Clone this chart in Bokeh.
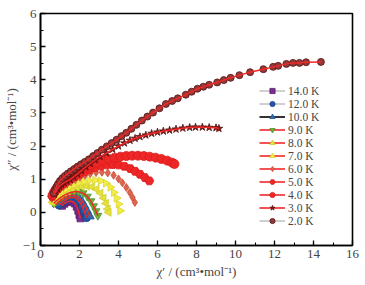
import math
from bokeh.plotting import figure
from bokeh.models import Legend, LegendItem, FixedTicker, ColumnDataSource
from bokeh.embed import file_html
from bokeh.resources import INLINE

# ---- data ----
labels = ["14.0 K", "12.0 K", "10.0 K", "9.0 K", "8.0 K", "7.0 K", "6.0 K", "5.0 K", "4.0 K", "3.0 K", "2.0 K"]

x_14 = [1.10, 1.22, 1.35, 1.50, 1.64, 1.76, 1.86, 1.94, 2.00, 2.05]
y_14 = [0.20, 0.26, 0.31, 0.34, 0.33, 0.27, 0.17, 0.05, -0.08, -0.18]

x_12 = [0.95, 1.08, 1.22, 1.38, 1.55, 1.72, 1.88, 2.02, 2.14, 2.24, 2.32, 2.36]
y_12 = [0.22, 0.28, 0.35, 0.41, 0.45, 0.45, 0.40, 0.30, 0.17, 0.03, -0.09, -0.16]

x_10 = [0.80, 0.92, 1.06, 1.22, 1.40, 1.60, 1.80, 1.98, 2.14, 2.28, 2.40, 2.50, 2.55]
y_10 = [0.25, 0.31, 0.38, 0.44, 0.49, 0.52, 0.50, 0.44, 0.33, 0.19, 0.05, -0.08, -0.13]

x_9 = [0.68, 0.80, 0.95, 1.12, 1.30, 1.50, 1.72, 1.95, 2.18, 2.40, 2.58, 2.72, 2.84, 2.94]
y_9 = [0.27, 0.34, 0.41, 0.48, 0.54, 0.59, 0.62, 0.62, 0.58, 0.48, 0.34, 0.19, 0.04, -0.10]

x_8 = [0.62, 0.74, 0.88, 1.04, 1.22, 1.42, 1.64, 1.88, 2.12, 2.38, 2.64, 2.88, 3.08, 3.24, 3.36, 3.45, 3.50]
y_8 = [0.30, 0.37, 0.44, 0.51, 0.58, 0.64, 0.70, 0.75, 0.78, 0.79, 0.77, 0.70, 0.58, 0.43, 0.27, 0.10, 0.00]

x_7 = [0.60, 0.70, 0.82, 0.96, 1.12, 1.30, 1.50, 1.72, 1.96, 2.22, 2.50, 2.80, 3.08, 3.35, 3.58, 3.76, 3.90, 4.00, 4.08]
y_7 = [0.35, 0.42, 0.49, 0.56, 0.63, 0.70, 0.77, 0.83, 0.89, 0.93, 0.96, 0.97, 0.95, 0.88, 0.76, 0.60, 0.43, 0.25, 0.05]

x_6 = [0.58, 0.66, 0.76, 0.88, 1.02, 1.18, 1.36, 1.56, 1.78, 2.02, 2.28, 2.55, 2.85, 3.15, 3.45, 3.75, 4.00, 4.20, 4.40, 4.58, 4.72, 4.84]
y_6 = [0.42, 0.50, 0.57, 0.64, 0.71, 0.78, 0.85, 0.92, 0.99, 1.06, 1.12, 1.17, 1.20, 1.21, 1.19, 1.12, 1.01, 0.89, 0.75, 0.60, 0.45, 0.30]

x_5 = [0.60, 0.68, 0.78, 0.90, 1.03, 1.18, 1.35, 1.55, 1.76, 2.00, 2.25, 2.52, 2.80, 3.10, 3.40, 3.70, 4.00, 4.30, 4.60, 4.85, 5.10, 5.35, 5.58]
y_5 = [0.48, 0.57, 0.65, 0.73, 0.80, 0.87, 0.94, 1.01, 1.08, 1.15, 1.22, 1.29, 1.35, 1.40, 1.43, 1.44, 1.43, 1.39, 1.32, 1.24, 1.15, 1.05, 0.95]

x_4 = [0.62, 0.70, 0.80, 0.92, 1.05, 1.20, 1.38, 1.58, 1.80, 2.05, 2.30, 2.58, 2.88, 3.20, 3.50, 3.80, 4.10, 4.40, 4.70, 5.00, 5.30, 5.60, 5.90, 6.20, 6.50, 6.75, 6.87]
y_4 = [0.52, 0.62, 0.71, 0.80, 0.88, 0.96, 1.04, 1.12, 1.20, 1.28, 1.36, 1.43, 1.50, 1.56, 1.61, 1.65, 1.68, 1.70, 1.71, 1.71, 1.70, 1.68, 1.65, 1.61, 1.56, 1.50, 1.46]

x_3 = [0.70, 0.78, 0.87, 0.97, 1.08, 1.20, 1.35, 1.52, 1.70, 1.90, 2.10, 2.32, 2.55, 2.80, 3.05, 3.38, 3.70, 4.00, 4.30, 4.59, 4.85, 5.10, 5.40, 5.70, 6.00, 6.30, 6.62, 6.95, 7.30, 7.65, 7.95, 8.30, 8.65, 9.00, 9.15]
y_3 = [0.55, 0.63, 0.71, 0.78, 0.84, 0.89, 0.94, 0.99, 1.07, 1.16, 1.26, 1.37, 1.47, 1.58, 1.68, 1.79, 1.90, 2.00, 2.09, 2.17, 2.23, 2.28, 2.33, 2.38, 2.42, 2.45, 2.48, 2.51, 2.54, 2.56, 2.57, 2.57, 2.56, 2.55, 2.53]

x_2 = [0.68, 0.75, 0.82, 0.90, 1.00, 1.12, 1.25, 1.40, 1.56, 1.73, 1.90, 2.08, 2.27, 2.48, 2.70, 2.92, 3.15, 3.40, 3.65, 3.90, 4.15, 4.40, 4.66, 4.92, 5.20, 5.48, 5.77, 6.10, 6.43, 6.75, 7.04, 7.45, 7.75, 8.05, 8.35, 8.65, 9.06, 9.40, 9.75, 10.20, 10.75, 11.43, 11.93, 12.19, 12.61, 12.95, 13.28, 13.62, 14.38]
y_2 = [0.58, 0.68, 0.77, 0.86, 0.95, 1.03, 1.10, 1.17, 1.24, 1.31, 1.38, 1.45, 1.52, 1.60, 1.70, 1.79, 1.89, 1.99, 2.09, 2.19, 2.30, 2.40, 2.52, 2.64, 2.77, 2.89, 3.01, 3.14, 3.27, 3.36, 3.44, 3.55, 3.64, 3.73, 3.79, 3.85, 3.92, 3.99, 4.06, 4.14, 4.23, 4.32, 4.39, 4.42, 4.48, 4.51, 4.51, 4.53, 4.54]

x_ticks = [0, 2, 4, 6, 8, 10, 12, 14, 16]
y_ticks = [-1, 0, 1, 2, 3, 4, 5, 6]

FONT = "Liberation Serif"

p = figure(width=365, height=285, x_range=(0, 16), y_range=(-1, 6),
           output_backend="svg", toolbar_location=None,
           min_border_left=36, min_border_right=13, min_border_top=13, min_border_bottom=40)
p.grid.visible = False
p.outline_line_color = "black"
p.outline_line_width = 1.6

for ax in (p.xaxis[0], p.yaxis[0]):
    ax.axis_line_width = 1.6
    ax.major_tick_in = 5
    ax.major_tick_out = 0
    ax.minor_tick_in = 3
    ax.minor_tick_out = 0
    ax.major_tick_line_width = 1.3
    ax.minor_tick_line_width = 1.1
    ax.major_label_text_font = FONT
    ax.major_label_text_font_size = "13px"
    ax.axis_label_text_font = FONT
    ax.axis_label_text_font_size = "13px"
    ax.axis_label_text_font_style = "normal"
    ax.major_label_standoff = 4

p.xaxis.ticker = FixedTicker(ticks=x_ticks, minor_ticks=list(range(0, 17)))
p.yaxis.ticker = FixedTicker(ticks=y_ticks, minor_ticks=[v / 2 for v in range(-2, 13)])
p.yaxis.major_label_overrides = {-1: "\u22121"}
p.xaxis.axis_label = "\u03c7\u2032 / (cm\u00b3\u2022mol\u207b\u00b9)"
p.yaxis.axis_label = "\u03c7\u2033 / (cm\u00b3\u2022mol\u207b\u00b9)"
p.xaxis.axis_label_standoff = 3
p.yaxis.axis_label_standoff = 1

series = [
    (x_14, y_14, "square", 0, "#7B2C8F", "#5E1F70", "#a0a0a0"),
    (x_12, y_12, "circle", 0, "#2455A8", "#1A3F85", "#a0a0a0"),
    (x_10, y_10, "triangle", 0, "#2F6DB6", "#1F528F", "black"),
    (x_9, y_9, "inverted_triangle", 0, "#69B23C", "#4F9128", "#F02828"),
    (x_8, y_8, "triangle", math.pi / 2, "#E4E23C", "#D0CC28", "#F02828"),
    (x_7, y_7, "triangle", -math.pi / 2, "#F2EC46", "#DCD630", "#F02828"),
    (x_6, y_6, "diamond", 0, "#E0654E", "#C84E3A", "#F02828"),
    (x_5, y_5, "hex", 0, "#EE2626", "#D81A1A", "#F02828"),
    (x_4, y_4, "circle", 0, "#EE2626", "#D81A1A", "#F02828"),
    (x_3, y_3, "star", 0, "#7A1C1C", "#5A1010", "#F02828"),
    (x_2, y_2, "circle", 0, "#923A3A", "#551010", "#a0a0a0"),
]
sizes = [7, 8, 8, 8, 8, 8, 8, 9, 9, 8, 7]

scatters = []
for (xs, ys, mk, ang, fc, lc, legc), lab, sz in zip(series, labels, sizes):
    src = ColumnDataSource(dict(x=xs, y=ys))
    r = p.scatter("x", "y", source=src, marker=mk, angle=ang, size=sz,
                  fill_color=fc, line_color=lc, line_width=0.8)
    scatters.append(r)
for (xs, ys, mk, ang, fc, lc, legc), lab, sz in zip(series, labels, sizes):
    if lab in ("9.0 K", "10.0 K", "12.0 K", "14.0 K", "3.0 K", "2.0 K"):
        p.line(xs, ys, line_color="#F02828", line_width=1.5)

items = []
for (xs, ys, mk, ang, fc, lc, legc), lab, sr in zip(series, labels, scatters):
    lr = p.line([-50, -49], [-50, -49], line_color=legc, line_width=1.6 if legc != "#a0a0a0" else 1.0)
    items.append(LegendItem(label=lab, renderers=[lr, sr], index=0))

leg = Legend(items=items, location=(219, 18), label_text_font=FONT, label_text_font_size="11.5px",
             glyph_width=26, glyph_height=13, label_height=13, spacing=0, padding=0, margin=0,
             label_standoff=3, border_line_alpha=0, background_fill_alpha=0)
p.add_layout(leg)

open("out.html", "w").write(file_html(p, INLINE))
